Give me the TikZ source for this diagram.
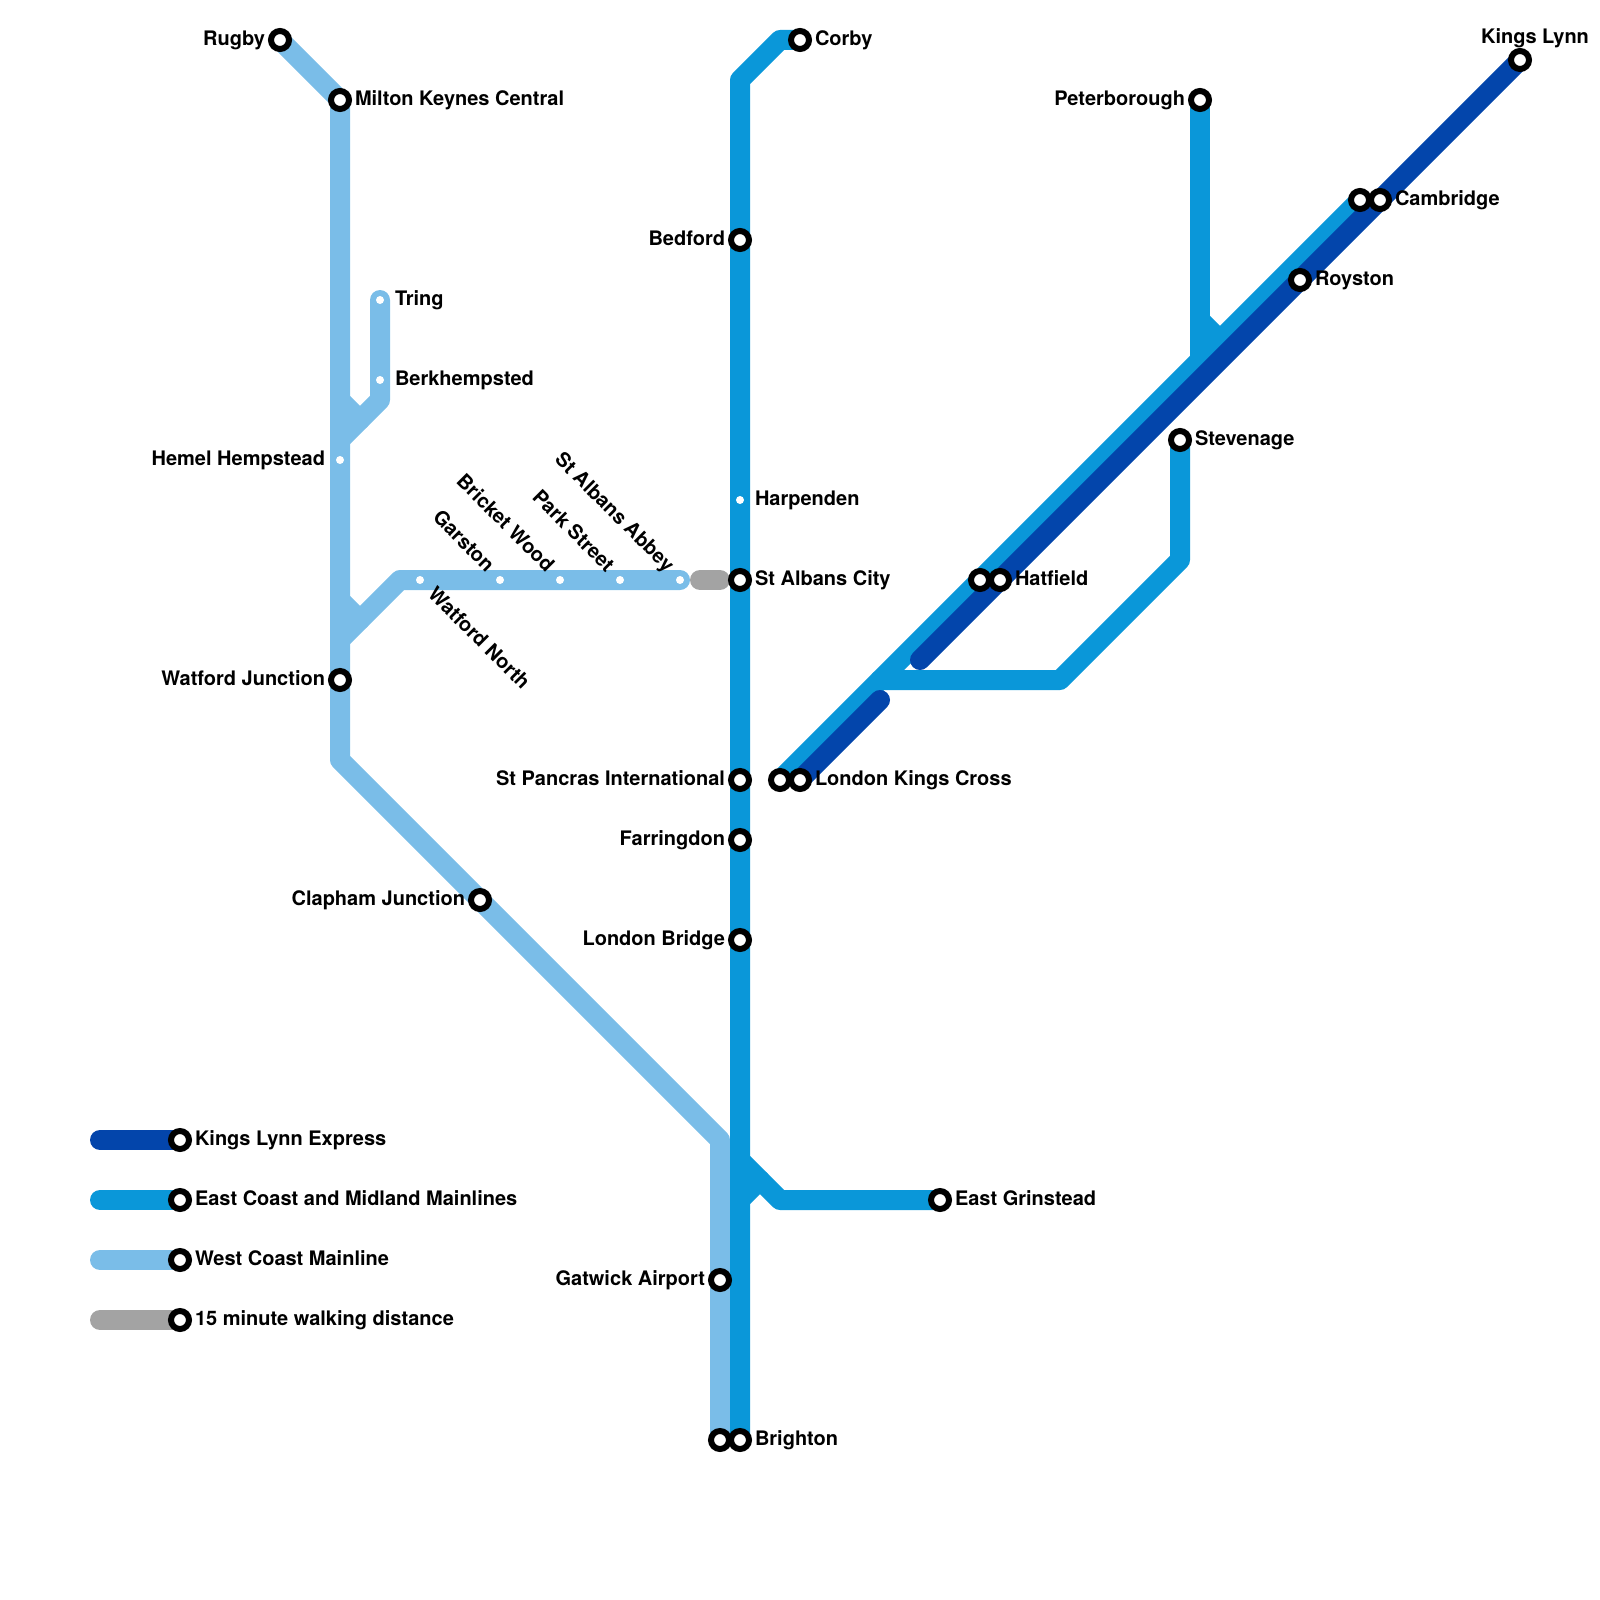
\documentclass[tikz,border=0pt]{standalone}
\usepackage{fontspec}
\setmainfont{TeX Gyre Heros}
\usepackage{xcolor}
\usepackage{tikz}
\usetikzlibrary{positioning, backgrounds}

\definecolor{kingslynncol}{HTML}{0345AB}
\definecolor{eastcoastcol}{HTML}{0A97D9}
\definecolor{westcoastcol}{HTML}{7ABDE8}
\definecolor{walkcol}{HTML}{A3A3A3}

\begin{document}
\begin{tikzpicture}[x=0.5pt, y=-0.5pt, node distance=1.5pt,
		stn/.style={circle, draw=black, fill=white, line width=3pt, inner sep=0pt, minimum size=9pt},
		halt/.style={circle, fill=white, inner sep=0pt, minimum size=4pt, outer sep=4pt},
		lbl/.style={inner sep=0pt, outer sep=0pt, text height=7.2pt, text depth=0pt, yshift=0.8pt, font=\fontsize{10}{12}\selectfont\bfseries},
		track/.style={line width=10pt, line cap=round, line join=round},
		kingslynn/.style={track, draw=kingslynncol},
		eastcoast/.style={track, draw=eastcoastcol},
		westcoast/.style={track, draw=westcoastcol},
		walk/.style={track, draw=walkcol}]
		\useasboundingbox (0,0) rectangle (1600,1600);
		
		% West Coast stations
		\node[stn] (rugby) at (280,40) {};
		\node[stn] (milton) at (340,100) {};
		\node[halt] (tring) at (380,300) {};
		\node[halt] (berkhamp) at (380,380) {};
		\node[halt] (hemel) at (340,460) {};
		\node[stn] (watfordj) at (340,680) {};
		\node[halt] (watfordn) at (420,580) {};
		\node[halt] (garston) at (500,580) {};
		\node[halt] (bricket) at (560,580) {};
		\node[halt] (parkst) at (620,580) {};
		\node[halt] (abbey) at (680,580) {};
		\node[stn] (clapham) at (480,900) {};
		\node[stn] (gatwick) at (720,1280) {};
		\node[stn] (brightonw) at (720,1440) {};
		
		% East Coast and Midland stations
		\node[stn] (corby) at (800,40) {};
		\node[stn] (bedford) at (740,240) {};
		\node[halt] (harpenden) at (740,500) {};
		\node[stn] (stalbans) at (740,580) {};
		\node[stn] (stpancras) at (740,780) {};
		\node[stn] (farringdon) at (740,840) {};
		\node[stn] (londonbr) at (740,940) {};
		\node[stn] (brighton) at (740,1440) {};
		\node[stn] (grinstead) at (940,1200) {};
		\node[stn] (peterboro) at (1200,100) {};
		\node[stn] (stevenage) at (1180,440) {};
		\node[stn] (kingsxe) at (780,780) {};
		\node[stn] (hatfielde) at (980,580) {};
		\node[stn] (cambridgee) at (1360,200) {};
		
		% Kings Lynn stations
		\node[stn] (kingsx) at (800,780) {};
		\node[stn] (hatfield) at (1000,580) {};
		\node[stn] (royston) at (1300,280) {};
		\node[stn] (cambridge) at (1380,200) {};
		\node[stn] (lynn) at (1520,60) {};
		
		% Legend stations
		\node[stn] (keyk) at (180,1140) {};
		\node[stn] (keye) at (180,1200) {};
		\node[stn] (keyw) at (180,1260) {};
		\node[stn] (keyg) at (180,1320) {};
		
		% Bends and joins
		\coordinate (wbottom) at (340,760);
		\coordinate (wturn) at (720,1140);
		\coordinate (tringbend) at (380,400);
		\coordinate (tringa) at (340,440);
		\coordinate (tringb) at (340,400);
		\coordinate (tringc) at (360,420);
		\coordinate (abbeybend) at (400,580);
		\coordinate (abbeya) at (340,640);
		\coordinate (abbeyb) at (340,600);
		\coordinate (abbeyc) at (360,620);
		\coordinate (corbya) at (780,40);
		\coordinate (corbyb) at (740,80);
		\coordinate (grina) at (780,1200);
		\coordinate (grinb) at (740,1160);
		\coordinate (grinc) at (740,1200);
		\coordinate (grind) at (760,1180);
		\coordinate (petera) at (1200,360);
		\coordinate (peterb) at (1200,320);
		\coordinate (peterc) at (1220,340);
		\coordinate (stevea) at (1180,560);
		\coordinate (steveb) at (1060,680);
		\coordinate (stevec) at (880,680);
		\coordinate (lynnend) at (880,700);
		\coordinate (lynnstart) at (920,660);
		\coordinate (walka) at (700,580);
		\coordinate (walkb) at (720,580);
		\coordinate (keyka) at (100,1140);
		\coordinate (keyea) at (100,1200);
		\coordinate (keywa) at (100,1260);
		\coordinate (keyga) at (100,1320);
		
		% Lines
		\begin{scope}[on background layer]
			\draw[westcoast] (rugby.center) -- (milton.center) -- (wbottom) -- (wturn) -- (brightonw.center);
			\draw[westcoast] (tring.center) -- (tringbend) -- (tringa);
			\draw[westcoast] (tringb) -- (tringc);
			\draw[westcoast] (abbey.center) -- (abbeybend) -- (abbeya);
			\draw[westcoast] (abbeyb) -- (abbeyc);
			\draw[walk] (walka) -- (walkb);
			\draw[eastcoast] (corby.center) -- (corbya) -- (corbyb) -- (brighton.center);
			\draw[eastcoast] (grinstead.center) -- (grina) -- (grinb);
			\draw[eastcoast] (grinc) -- (grind);
			\draw[eastcoast] (peterboro.center) -- (petera);
			\draw[eastcoast] (peterb) -- (peterc);
			\draw[eastcoast] (kingsxe.center) -- (cambridgee.center);
			\draw[eastcoast] (stevenage.center) -- (stevea) -- (steveb) -- (stevec);
			\draw[kingslynn] (kingsx.center) -- (lynnend);
			\draw[kingslynn] (lynnstart) -- (lynn.center);
			\draw[kingslynn] (keyka) -- (keyk.center);
			\draw[eastcoast] (keyea) -- (keye.center);
			\draw[westcoast] (keywa) -- (keyw.center);
			\draw[walk] (keyga) -- (keyg.center);
		\end{scope}
		
		% Labels
		\node[lbl, left=of rugby] (rugbyl) {Rugby};
		\node[lbl, right=of milton] (miltonl) {Milton Keynes Central};
		\node[lbl, right=of tring] (tringl) {Tring};
		\node[lbl, right=of berkhamp] (berkhampl) {Berkhempsted};
		\node[lbl, left=of hemel] (hemell) {Hemel Hempstead};
		\node[lbl, left=of watfordj] (watfordjl) {Watford Junction};
		\node[lbl, left=of clapham] (claphaml) {Clapham Junction};
		\node[lbl, left=of gatwick] (gatwickl) {Gatwick Airport};
		\node[lbl, right=of corby] (corbyl) {Corby};
		\node[lbl, left=of bedford] (bedfordl) {Bedford};
		\node[lbl, right=of harpenden] (harpendenl) {Harpenden};
		\node[lbl, right=of stalbans] (stalbansl) {St Albans City};
		\node[lbl, left=of stpancras] (stpancrasl) {St Pancras International};
		\node[lbl, left=of farringdon] (farringdonl) {Farringdon};
		\node[lbl, left=of londonbr] (londonbrl) {London Bridge};
		\node[lbl, right=of brighton] (brightonl) {Brighton};
		\node[lbl, right=of grinstead] (grinsteadl) {East Grinstead};
		\node[lbl, left=of peterboro] (peterborol) {Peterborough};
		\node[lbl, right=of stevenage] (stevenagel) {Stevenage};
		\node[lbl, right=of kingsx] (kingsxl) {London Kings Cross};
		\node[lbl, right=of hatfield] (hatfieldl) {Hatfield};
		\node[lbl, right=of royston] (roystonl) {Royston};
		\node[lbl, right=of cambridge] (cambridgel) {Cambridge};
		\node[lbl, above=of lynn, xshift=7.5pt] (lynnl) {Kings Lynn};
		\node[lbl, right=of keyk] (keykl) {Kings Lynn Express};
		\node[lbl, right=of keye] (keyel) {East Coast and Midland Mainlines};
		\node[lbl, right=of keyw] (keywl) {West Coast Mainline};
		\node[lbl, right=of keyg] (keygl) {15 minute walking distance};
		
		% Slanted labels
		\node[lbl, rotate=-45, anchor=west] (watfordnl) at ([shift={(12,12)}]watfordn.center) {Watford North};
		\node[lbl, rotate=-45, anchor=east] (garstonl) at ([shift={(-9,-10.5)}]garston.center) {Garston};
		\node[lbl, rotate=-45, anchor=east] (bricketl) at ([shift={(-9,-10.5)}]bricket.center) {Bricket Wood};
		\node[lbl, rotate=-45, anchor=east] (parkstl) at ([shift={(-9,-10.5)}]parkst.center) {Park Street};
		\node[lbl, rotate=-45, anchor=east] (abbeyl) at ([shift={(-9,-10.5)}]abbey.center) {St Albans Abbey};
	\end{tikzpicture}
\end{document}
